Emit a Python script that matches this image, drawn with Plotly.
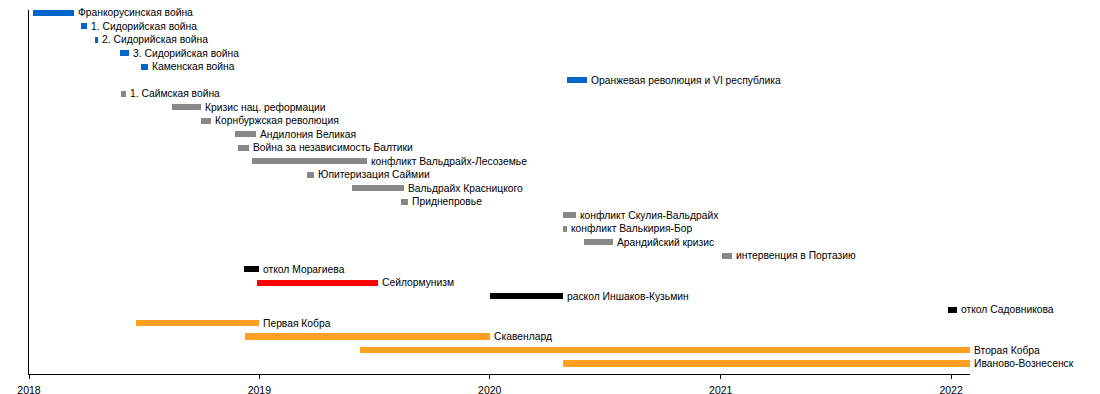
import plotly.graph_objects as go
import pandas as pd

labels = [
    "Франкорусинская война", "1. Сидорийская война", "2. Сидорийская война",
    "3. Сидорийская война", "Каменская война", "Оранжевая революция и VI республика",
    "1. Саймская война", "Кризис нац. реформации", "Корнбуржская революция",
    "Андилония Великая", "Война за независимость Балтики", "конфликт Вальдрайх-Лесоземье",
    "Юпитеризация Саймии", "Вальдрайх Красницкого", "Приднепровье",
    "конфликт Скулия-Вальдрайх", "конфликт Валькирия-Бор", "Арандийский кризис",
    "интервенция в Портазию", "откол Морагиева", "Сейлормунизм",
    "раскол Иншаков-Кузьмин", "откол Садовникова", "Первая Кобра",
    "Скавенлард", "Вторая Кобра", "Иваново-Вознесенск",
]
starts = [
    "2018-01-07", "2018-03-24", "2018-04-17", "2018-05-25", "2018-06-28", "2020-05-02",
    "2018-05-27", "2018-08-16", "2018-10-01", "2018-11-24", "2018-11-28", "2018-12-20",
    "2019-03-18", "2019-05-27", "2019-08-14", "2020-04-26", "2020-04-26", "2020-05-30",
    "2021-01-03", "2018-12-08", "2018-12-28", "2020-01-01", "2021-12-27", "2018-06-20",
    "2018-12-09", "2019-06-10", "2020-04-26",
]
ends = [
    "2018-03-14", "2018-04-03", "2018-04-20", "2018-06-08", "2018-07-08", "2020-06-03",
    "2018-06-03", "2018-09-30", "2018-10-17", "2018-12-26", "2018-12-15", "2019-06-21",
    "2019-03-29", "2019-08-18", "2019-08-25", "2020-05-16", "2020-05-02", "2020-07-15",
    "2021-01-19", "2019-01-01", "2019-07-08", "2020-04-26", "2022-01-10", "2019-01-01",
    "2020-01-01", "2022-01-31", "2022-01-31",
]
groups = [
    "blue", "blue", "blue", "blue", "blue", "blue",
    "gray", "gray", "gray", "gray", "gray", "gray", "gray", "gray", "gray",
    "gray", "gray", "gray", "gray",
    "black", "red", "black", "black",
    "orange", "orange", "orange", "orange",
]
group_colors = {"blue": "#0066cc", "gray": "#888888", "black": "#000000",
                "red": "#ff0000", "orange": "#ffa022"}
year_ticks = ["2018-01-01", "2019-01-01", "2020-01-01", "2021-01-01", "2022-01-01"]
year_labels = ["2018", "2019", "2020", "2021", "2022"]
x_range = ["2018-01-01", "2022-01-31"]

s = pd.to_datetime(starts)
e = pd.to_datetime(ends)
dur_ms = [(b - a).total_seconds() * 1000 for a, b in zip(s, e)]
rows = list(range(len(labels)))

fig = go.Figure()
fig.add_trace(go.Bar(
    orientation="h",
    y=rows,
    x=dur_ms,
    base=starts,
    width=0.45,
    marker=dict(color=[group_colors[g] for g in groups], line=dict(width=0)),
    hovertext=labels,
    showlegend=False,
))
for lab, en, r in zip(labels, ends, rows):
    fig.add_annotation(x=en, y=r, text=lab, showarrow=False, xanchor="left",
                       yanchor="middle", xshift=2,
                       font=dict(family="Liberation Sans, Arial, sans-serif", size=10.3, color="#000"))

# page body has an 8px default margin, so the figure is sized to fit the window
fig.update_layout(
    width=1092, height=386,
    margin=dict(l=21, r=130, t=2, b=20, autoexpand=False),
    plot_bgcolor="white", paper_bgcolor="white",
    font=dict(family="Liberation Sans, Arial, sans-serif", size=11, color="#000"),
    bargap=0,
)
fig.update_xaxes(type="date", range=x_range, tickvals=year_ticks, ticktext=year_labels,
                 showgrid=False, zeroline=False, showline=True, linecolor="#000", linewidth=1,
                 ticks="outside", ticklen=4, tickcolor="#000", automargin=False,
                 ticklabelstandoff=2, tickfont=dict(size=10.5))
fig.update_yaxes(range=[26.78, -0.22], showticklabels=False, showgrid=False, zeroline=False,
                 showline=True, linecolor="#000", linewidth=1, ticks="", automargin=False)
fig.write_html("out.html")
